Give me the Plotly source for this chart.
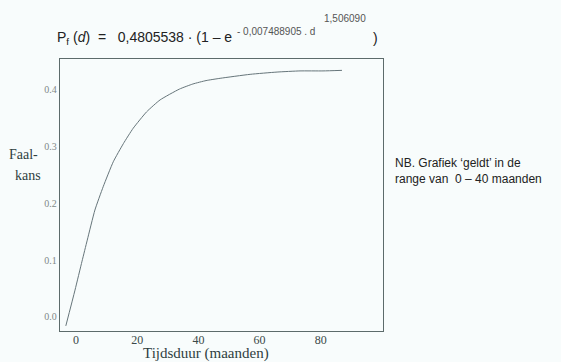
import plotly.graph_objects as go

# Curve points (months, failure probability)
months = [-3.3, -0.3, 2.0, 3.7, 6.2, 8.9, 12.2, 15.5, 18.7, 23.1, 27.5, 33.8, 38.2, 42.5, 47.1, 56.9, 65.7, 73.2, 80.7, 86.9]
faalkans = [-0.016, 0.047, 0.098, 0.135, 0.188, 0.229, 0.273, 0.305, 0.332, 0.361, 0.382, 0.401, 0.410, 0.416, 0.420, 0.427, 0.431, 0.433, 0.433, 0.434]

x_ticks = [0, 20, 40, 60, 80]
y_ticks = [0.0, 0.1, 0.2, 0.3, 0.4]

W, H = 561, 362
L, R, T, B = 60, 383, 59, 331

def px(x):
    return (x - L) / (R - L)

def py(y):
    return (B - y) / (B - T)

fig = go.Figure()
fig.add_trace(go.Scatter(x=months, y=faalkans, mode="lines",
                         line=dict(color="#66757a", width=1, shape="spline", smoothing=0.5),
                         showlegend=False, hoverinfo="skip"))

bg = "#f8fcfc"
fig.update_layout(
    width=W, height=H,
    margin=dict(l=L, r=W - R, t=T, b=H - B),
    paper_bgcolor=bg, plot_bgcolor=bg,
    xaxis=dict(range=[-5.2, 100.3], tickvals=x_ticks, ticktext=[str(v) for v in x_ticks],
               showgrid=False, zeroline=False, showline=True, mirror=True,
               linecolor="#5d6b6b", linewidth=1.3, ticks="", ticklabelstandoff=-3,
               tickfont=dict(family="Liberation Serif", size=12, color="#3a4848")),
    yaxis=dict(range=[-0.025, 0.454], tickvals=y_ticks, ticktext=[f"{v:.1f}" for v in y_ticks],
               showgrid=False, zeroline=False, showline=True, mirror=True,
               linecolor="#5d6b6b", linewidth=1.3, ticks="",
               tickfont=dict(family="Liberation Serif", size=10, color="#808888")),
)

ann = []
sans = "Liberation Sans"
# formula
ann.append(dict(x=px(55), y=py(38), xanchor="left", yanchor="middle",
                text="P<sub>f</sub> (<i>d</i>)  =   0,4805538 · (1 – e",
                font=dict(family=sans, size=14, color="#222"), showarrow=False))
ann.append(dict(x=px(235), y=py(32), xanchor="left", yanchor="middle",
                text="- 0,007488905 . d",
                font=dict(family=sans, size=10, color="#555"), showarrow=False))
ann.append(dict(x=px(322), y=py(18), xanchor="left", yanchor="middle",
                text="1,506090",
                font=dict(family=sans, size=10, color="#555"), showarrow=False))
ann.append(dict(x=px(371), y=py(38), xanchor="left", yanchor="middle",
                text=")",
                font=dict(family=sans, size=14, color="#222"), showarrow=False))
# note
ann.append(dict(x=px(393), y=py(171), xanchor="left", yanchor="middle", align="left",
                text="NB. Grafiek ‘geldt’ in de<br>range van  0 – 40 maanden",
                font=dict(family=sans, size=12, color="#222"), showarrow=False))
# axis titles
ann.append(dict(x=px(206), y=py(353), xanchor="center", yanchor="middle",
                text="Tijdsduur (maanden)",
                font=dict(family="Liberation Serif", size=15, color="#2f3f3f"), showarrow=False))
ann.append(dict(x=px(23), y=py(154), xanchor="center", yanchor="middle",
                text="Faal-",
                font=dict(family="Liberation Serif", size=14, color="#2f3f3f"), showarrow=False))
ann.append(dict(x=px(28), y=py(175), xanchor="center", yanchor="middle",
                text="kans",
                font=dict(family="Liberation Serif", size=14, color="#2f3f3f"), showarrow=False))
for a in ann:
    a["xref"] = "paper"
    a["yref"] = "paper"
fig.update_layout(annotations=ann)

fig.write_html("out.html", config={"displayModeBar": False},
               post_script="document.body.style.margin='0';document.body.style.overflow='hidden';document.body.style.background='" + bg + "';")
